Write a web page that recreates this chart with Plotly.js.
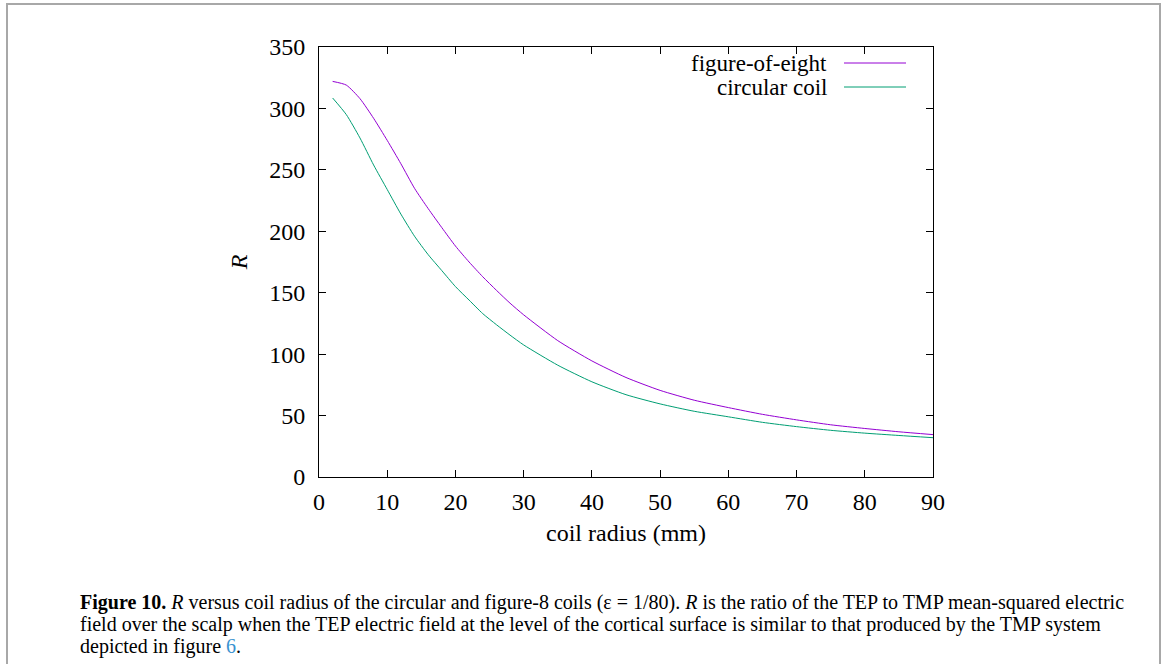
<!DOCTYPE html>
<html>
<head>
<meta charset="utf-8">
<script src="https://cdn.plot.ly/plotly-3.0.1.min.js"></script>
<style>
  html, body { margin: 0; padding: 0; background: #ffffff; }
  #wrap { position: relative; width: 1167px; height: 664px; overflow: hidden; }
  #chart { position: absolute; left: 0; top: 0; width: 1167px; height: 664px; }
  #frame { position: absolute; left: 6px; top: 3px; width: 1155px; height: 720px;
           border: 2px solid #a8a8a8; box-sizing: border-box; pointer-events: none; }
</style>
</head>
<body>
<div id="wrap">
  <div id="chart"></div>
  <div id="frame"></div>
</div>
<script>
// Coil radius (mm)
const radiusEight = [2, 4, 6, 8, 10, 12, 14, 16, 18, 20, 22, 24, 26, 28, 30,
                     35, 40, 45, 50, 55, 60, 65, 70, 75, 80, 85, 90];
const figureOfEight = [322, 319, 308, 292, 274, 255, 235, 218.5, 203, 188, 175, 163, 152, 141.5, 132,
                       111, 94.5, 81, 70.5, 62.5, 56.5, 51, 46.5, 42.5, 39.5, 36.8, 34.5];

const radiusCircular = [2, 4, 6, 8, 10, 12, 14, 16, 18, 20, 22, 24, 26, 28, 30,
                        35, 40, 45, 50, 55, 60, 65, 70, 75, 80, 85, 90];
const circularCoil = [308.5, 295, 276, 254, 234, 214, 196, 181, 168, 155, 144, 133, 124, 115.5, 107.5,
                      91, 77.5, 67, 59.5, 53.5, 49, 44.5, 41, 38, 35.7, 33.8, 32];

const seriesNames = ['figure-of-eight', 'circular coil'];
const seriesColors = ['#9400d3', '#009e73'];

const xTicks = [0, 10, 20, 30, 40, 50, 60, 70, 80, 90];
const yTicks = [0, 50, 100, 150, 200, 250, 300, 350];

const xTitle = 'coil radius (mm)';
const yTitle = '<i>R</i>';
const captionLines = [
  '<b>Figure 10.</b> <i>R</i> versus coil radius of the circular and figure-8 coils (ε = 1/80). <i>R</i> is the ratio of the TEP to TMP mean-squared electric',
  'field over the scalp when the TEP electric field at the level of the cortical surface is similar to that produced by the TMP system',
  'depicted in figure <span style="color:#3a93d0">6</span>.'
];

const serif = "'Liberation Serif', 'DejaVu Serif', serif";

const traces = [
  { x: radiusEight, y: figureOfEight, name: seriesNames[0], type: 'scatter', mode: 'lines',
    line: { color: seriesColors[0], width: 1, shape: 'spline', smoothing: 0.6 } },
  { x: radiusCircular, y: circularCoil, name: seriesNames[1], type: 'scatter', mode: 'lines',
    line: { color: seriesColors[1], width: 1, shape: 'spline', smoothing: 0.6 } }
];

// plot area in pixels: left 319, right 933, top 47, bottom 477
const L = 319, R = 933, T = 47, B = 477;
const W = 1167, H = 664;
const px2x = p => (p - L) / (R - L);
const py2y = p => (B - p) / (B - T);

const legendRows = [
  { text: seriesNames[0], yPx: 63 },
  { text: seriesNames[1], yPx: 87 }
];

const annotations = legendRows.map(d => ({
  xref: 'paper', yref: 'paper', x: px2x(829), y: py2y(d.yPx),
  xanchor: 'right', yanchor: 'middle', showarrow: false, text: d.text,
  font: { family: serif, size: 23, color: '#000' }
}));
const captionY = [602, 624, 646];
captionLines.forEach((t, i) => {
  annotations.push({
    xref: 'paper', yref: 'paper', x: px2x(78), y: py2y(captionY[i]),
    xanchor: 'left', yanchor: 'middle', align: 'left', showarrow: false, text: t,
    font: { family: serif, size: 20, color: '#000' }
  });
});

const shapes = legendRows.map((d, i) => ({
  type: 'line', xref: 'paper', yref: 'paper',
  x0: px2x(844), x1: px2x(906), y0: py2y(d.yPx), y1: py2y(d.yPx),
  line: { color: seriesColors[i], width: 1 }
}));

const axisCommon = {
  showgrid: false, zeroline: false, showline: true, linecolor: '#000', linewidth: 1,
  mirror: 'allticks', ticks: 'inside', ticklen: 7, tickwidth: 1, tickcolor: '#000',
  tickfont: { family: serif, size: 24, color: '#000' }
};

const layout = {
  width: W, height: H,
  margin: { l: L, r: W - R, t: T, b: H - B },
  paper_bgcolor: '#ffffff', plot_bgcolor: '#ffffff',
  font: { family: serif, color: '#000' },
  showlegend: false,
  xaxis: Object.assign({}, axisCommon, {
    range: [0, 90], tickmode: 'array', tickvals: xTicks, ticktext: xTicks.map(String),
    ticklabelstandoff: 3,
    title: { text: xTitle, font: { family: serif, size: 24, color: '#000' }, standoff: 10 }
  }),
  yaxis: Object.assign({}, axisCommon, {
    range: [0, 350], tickmode: 'array', tickvals: yTicks, ticktext: yTicks.map(String),
    ticklabelstandoff: 8,
    title: { text: yTitle, font: { family: serif, size: 24, color: '#000' }, standoff: 14 }
  }),
  annotations: annotations,
  shapes: shapes
};

Plotly.newPlot('chart', traces, layout, { displayModeBar: false, staticPlot: true });
</script>
</body>
</html>
